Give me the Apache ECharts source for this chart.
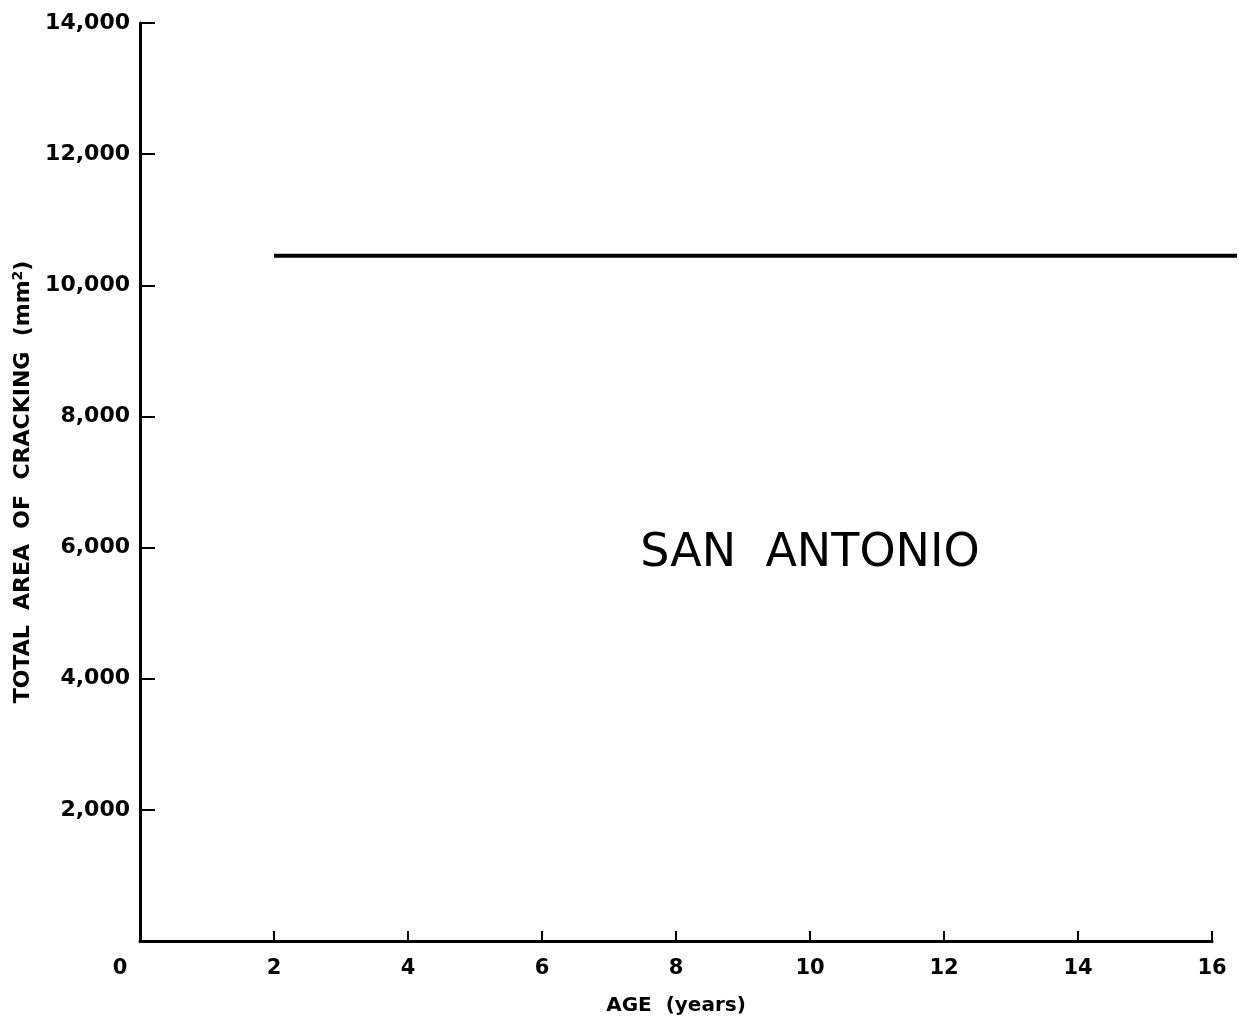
<!DOCTYPE html>
<html>
<head>
<meta charset="utf-8">
<script src="https://cdn.jsdelivr.net/npm/echarts@6/dist/echarts.min.js"></script>
<style>html,body{margin:0;padding:0;background:#fff}#c{width:1239px;height:1024px}</style>
</head>
<body>
<div id="c"></div>
<script>
const xTicks = [0, 2, 4, 6, 8, 10, 12, 14, 16];
const yTicks = [2000, 4000, 6000, 8000, 10000, 12000, 14000];
const lineAges = [2, 16.37];
const lineArea = [10450, 10450];
const xTitle = 'AGE  (years)';
const yTitle = 'TOTAL  AREA  OF  CRACKING  (mm';
const cityLabel = 'SAN  ANTONIO';
const cityPos = [10, 5900];

const FONT = 'DejaVu Sans';
const chart = echarts.init(document.getElementById('c'), null, {renderer: 'canvas'});
chart.setOption({
  backgroundColor: '#fff',
  animation: false,
  grid: [
    {left: 140, top: 23, right: 27, bottom: 83},
    {left: 140, top: 23, right: 2, bottom: 83}
  ],
  xAxis: [{
    gridIndex: 0,
    type: 'value', min: 0, max: 16, interval: 2,
    name: xTitle, nameLocation: 'middle', nameGap: 55,
    nameTextStyle: {fontFamily: FONT, fontWeight: 'bold', fontSize: 20, color: '#000'},
    axisLine: {show: true, lineStyle: {color: '#000', width: 3}},
    axisTick: {show: true, inside: true, length: 10, lineStyle: {color: '#000', width: 2},
      customValues: xTicks.filter(v => v !== 0)},
    axisLabel: {
      customValues: xTicks,
      fontFamily: FONT, fontWeight: 'bold', fontSize: 21, color: '#000', margin: 17,
      formatter: v => v === 0 ? '{z|0}' : String(v),
      rich: {z: {fontFamily: FONT, fontWeight: 'bold', fontSize: 21, color: '#000', padding: [0, 40, 0, 0]}}
    },
    splitLine: {show: false}
  }, {
    gridIndex: 1,
    type: 'value', min: 0, max: lineAges[lineAges.length - 1],
    show: false
  }],
  yAxis: [{
    gridIndex: 0,
    type: 'value', min: 0, max: 14000, interval: 2000,
    name: '{t|' + yTitle + '}{s|2}{t|)}', nameLocation: 'middle', nameGap: 105, nameRotate: 90,
    nameTextStyle: {
      rich: {
        t: {fontFamily: FONT, fontWeight: 'bold', fontSize: 22, color: '#000'},
        s: {fontFamily: FONT, fontWeight: 'bold', fontSize: 14, color: '#000', verticalAlign: 'top', padding: [0, 0, 10, 0]}
      }
    },
    axisLine: {show: true, lineStyle: {color: '#000', width: 3}},
    axisTick: {show: true, inside: true, length: 15, lineStyle: {color: '#000', width: 2}, customValues: yTicks},
    axisLabel: {
      customValues: yTicks,
      fontFamily: FONT, fontWeight: 'bold', fontSize: 22, color: '#000', margin: 10,
      formatter: v => v.toLocaleString('en-US')
    },
    splitLine: {show: false}
  }, {
    gridIndex: 1,
    type: 'value', min: 0, max: 14000,
    show: false
  }],
  series: [{
    type: 'line',
    xAxisIndex: 1, yAxisIndex: 1,
    data: lineAges.map((a, i) => [a, lineArea[i]]),
    symbol: 'none',
    lineStyle: {color: '#000', width: 4}
  }, {
    type: 'scatter',
    xAxisIndex: 0, yAxisIndex: 0,
    data: [cityPos],
    symbolSize: 1,
    itemStyle: {color: '#fff'},
    label: {show: true, position: 'inside', formatter: cityLabel, fontFamily: FONT, fontSize: 46,
      color: '#000', textBorderWidth: 0, opacity: 1},
    emphasis: {disabled: true},
    silent: true
  }]
});
</script>
</body>
</html>
